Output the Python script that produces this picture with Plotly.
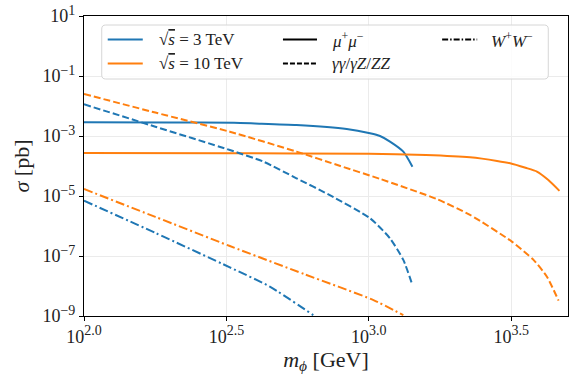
import plotly.graph_objects as go

# ---------------- data ----------------
mass_3tev_mumu = [100, 200, 336, 398, 557, 836, 1009, 1094, 1186, 1321, 1422]
sigma_3tev_mumu = [2.85e-3, 2.83e-3, 2.78e-3, 2.63e-3, 2.33e-3, 1.71e-3, 1.23e-3, 1.0e-3, 6.5e-4, 3.0e-4, 9.5e-5]

mass_10tev_mumu = [100, 316, 1000, 1585, 2265, 2818, 3133, 3548, 3890, 4266, 4667]
sigma_10tev_mumu = [2.69e-4, 2.66e-4, 2.57e-4, 2.33e-4, 1.95e-4, 1.48e-4, 1.23e-4, 8.7e-5, 6.5e-5, 3.4e-5, 1.48e-5]

mass_3tev_gg = [100, 178, 325, 427, 557, 729, 1009, 1186, 1321, 1422]
sigma_3tev_gg = [1.14e-2, 2.04e-3, 3.41e-4, 1.39e-4, 3.89e-5, 1.07e-5, 1.82e-6, 3.89e-7, 7.41e-8, 1.07e-8]

mass_10tev_gg = [100, 178, 325, 557, 794, 1094, 1730, 2265, 3177, 3784, 4217, 4634]
sigma_10tev_gg = [2.51e-2, 6.03e-3, 1.39e-3, 3.02e-4, 1.0e-4, 3.72e-5, 7.94e-6, 2.34e-6, 3.02e-7, 7.41e-8, 2.04e-8, 3.24e-9]

mass_3tev_ww = [100, 178, 325, 449, 638]
sigma_3tev_ww = [6.97e-6, 5.89e-7, 4.19e-8, 9.55e-9, 1.07e-9]

mass_10tev_ww = [100, 178, 325, 596, 1038, 1321]
sigma_10tev_ww = [1.71e-5, 2.01e-6, 2.15e-7, 2.45e-8, 3.39e-9, 1.07e-9]

x_tickvals = [10 ** 2.0, 10 ** 2.5, 10 ** 3.0, 10 ** 3.5]
x_tick_exponents = ["2.0", "2.5", "3.0", "3.5"]
y_tickvals = [1e1, 1e-1, 1e-3, 1e-5, 1e-7, 1e-9]
y_tick_exponents = ["1", "−1", "−3", "−5", "−7", "−9"]

def sup_label(e):
    return f"10<sup><span style='font-size:14px'>{e}</span></sup>"

x_ticktext = [sup_label(e) for e in x_tick_exponents]
y_ticktext = [sup_label(e) for e in y_tick_exponents]

BLUE = "#1f77b4"
ORANGE = "#ff7f0e"
DASH = "7px,3px"
DASHDOT = "9px,3px,2px,3px"
FONT = "Liberation Serif"

fig = go.Figure()
series = [
    (mass_3tev_mumu, sigma_3tev_mumu, BLUE, "solid"),
    (mass_10tev_mumu, sigma_10tev_mumu, ORANGE, "solid"),
    (mass_3tev_gg, sigma_3tev_gg, BLUE, DASH),
    (mass_10tev_gg, sigma_10tev_gg, ORANGE, DASH),
    (mass_3tev_ww, sigma_3tev_ww, BLUE, DASHDOT),
    (mass_10tev_ww, sigma_10tev_ww, ORANGE, DASHDOT),
]
for xs, ys, col, dash in series:
    fig.add_trace(go.Scatter(x=xs, y=ys, mode="lines",
                             line=dict(color=col, width=2, dash=dash, shape="spline", smoothing=0.6),
                             showlegend=False, hoverinfo="skip"))

# ---------------- manual legend ----------------
W, H = 483.4, 300.0
def px(x):
    return (x - 84.3) / W
def py(y):
    return (316 - y) / H

x0, x1, y0, y1 = px(102), px(548), py(25), py(79)
rx, ry = 4 / W, 4 / H
path = (f"M {x0+rx},{y0} L {x1-rx},{y0} Q {x1},{y0} {x1},{y0-ry} "
        f"L {x1},{y1+ry} Q {x1},{y1} {x1-rx},{y1} L {x0+rx},{y1} Q {x0},{y1} {x0},{y1+ry} "
        f"L {x0},{y0-ry} Q {x0},{y0} {x0+rx},{y0} Z")
shapes = [dict(type="path", path=path, xref="paper", yref="paper", layer="above",
               fillcolor="rgba(255,255,255,0.85)", line=dict(color="#d6d6d6", width=1))]

legend_items = [
    (108, 143, 157, 39.5, BLUE, "solid", "√<span style='text-decoration:overline'><i>s</i></span> = 3 TeV"),
    (108, 143, 157, 63.5, ORANGE, "solid", "√<span style='text-decoration:overline'><i>s</i></span> = 10 TeV"),
    (283, 317, 330, 39.5, "black", "solid", "<i>μ</i><sup>+</sup><i>μ</i><sup>−</sup>"),
    (283, 317, 330, 63.5, "black", "dash", "<i>γγ</i>/<i>γZ</i>/<i>ZZ</i>"),
    (442, 477, 489, 39.5, "black", "dashdot", "<i>W</i><sup>+</sup><i>W</i><sup>−</sup>"),
]
annotations = []
for lx0, lx1, tx, ty, col, dash, label in legend_items:
    d = {"solid": "solid", "dash": "5px,2px", "dashdot": "6px,2px,1.5px,2px"}[dash]
    shapes.append(dict(type="line", xref="paper", yref="paper", layer="above",
                       x0=px(lx0), x1=px(lx1), y0=py(ty), y1=py(ty),
                       line=dict(color=col, width=2, dash=d)))
    annotations.append(dict(xref="paper", yref="paper", x=px(tx), y=py(ty), text=label,
                            showarrow=False, xanchor="left", yanchor="middle",
                            font=dict(family=FONT, size=17, color="#222")))

fig.update_layout(
    width=578, height=381,
    margin=dict(l=84, r=10, t=16, b=65),
    paper_bgcolor="white", plot_bgcolor="white",
    font=dict(family=FONT, size=18, color="#222"),
    shapes=shapes, annotations=annotations,
    showlegend=False,
)
fig.update_xaxes(type="log", range=[2.0, 3.699], tickvals=x_tickvals, ticktext=x_ticktext,
                 showgrid=True, gridcolor="#ebebeb", gridwidth=1, automargin=False,
                 showline=True, linecolor="black", linewidth=1.2, mirror=True,
                 ticks="outside", ticklen=4, tickcolor="black", zeroline=False,
                 title=dict(text="<i>m</i><sub><i>ϕ</i></sub> [GeV]", font=dict(size=22), standoff=2))
fig.update_yaxes(type="log", range=[-9, 1], tickvals=y_tickvals, ticktext=y_ticktext,
                 showgrid=True, gridcolor="#ebebeb", gridwidth=1, automargin=False,
                 showline=True, linecolor="black", linewidth=1.2, mirror=True,
                 ticks="outside", ticklen=4, tickcolor="black", zeroline=False,
                 title=dict(text="<i>σ</i> [pb]", font=dict(size=22), standoff=6))

fig.write_html("out.html", config={"displayModeBar": False},
               post_script="document.body.style.margin='0';document.body.style.overflow='hidden';")
